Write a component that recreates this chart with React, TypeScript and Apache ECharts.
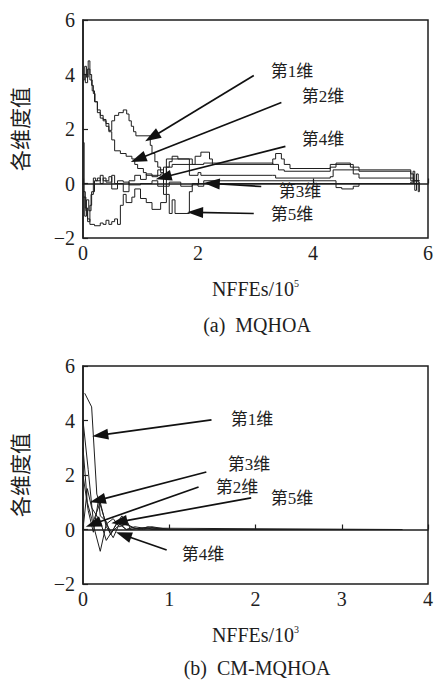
import React, { useEffect, useRef } from 'react';
import * as echarts from 'echarts';

// ---------- (a) MQHOA : x in 10^5 NFFEs ----------
const mqhoaDim1: [number, number][] = [
  [0, 3.8], [0.03, 4.3], [0.06, 3.9], [0.09, 4.5], [0.12, 4.0], [0.15, 3.6], [0.18, 3.3], [0.21, 3.0],
  [0.25, 2.7], [0.3, 2.5], [0.35, 2.35], [0.4, 2.2], [0.45, 1.95], [0.5, 2.3], [0.55, 2.5], [0.62, 2.6],
  [0.7, 2.7], [0.76, 2.55], [0.8, 2.3], [0.84, 2.1], [0.88, 1.9], [0.92, 1.75], [1.17, 1.4], [1.2, 1.1],
  [1.25, 0.8], [1.3, 0.6], [1.35, 0.4], [1.4, 0.6], [1.45, 0.9], [1.6, 0.9], [1.9, 0.7], [1.95, 1.0],
  [2.05, 1.15], [2.2, 0.9], [2.25, 0.7], [3.3, 0.9], [3.35, 1.1], [3.45, 0.9], [3.5, 0.7], [3.6, 0.55],
  [4.3, 0.7], [4.7, 0.5], [5.7, 0.2], [5.75, 0.0], [5.8, 0.1], [5.85, 0.1],
];
const mqhoaDim2: [number, number][] = [
  [0, 4.0], [0.04, 3.7], [0.08, 4.2], [0.12, 3.8], [0.16, 3.4], [0.2, 3.0], [0.25, 2.6], [0.3, 2.4],
  [0.35, 2.3], [0.4, 2.1], [0.45, 1.9], [0.5, 1.6], [0.55, 1.2], [0.65, 1.1], [0.75, 1.0], [0.85, 0.9],
  [0.9, 0.7], [0.95, 0.55], [1.05, 0.4], [1.1, 0.3], [1.35, 0.35], [1.45, 0.6], [1.55, 0.7], [2.0, 0.7],
  [2.1, 0.75], [3.3, 0.7], [3.4, 0.5], [3.5, 0.45], [4.3, 0.6], [4.4, 0.75], [4.65, 0.6], [4.8, 0.45],
  [5.7, 0.35], [5.75, 0.1], [5.85, 0.1],
];
const mqhoaDim3: [number, number][] = [
  [0, 1.5], [0.02, -0.5], [0.05, -1.0], [0.08, -1.4], [0.12, -0.8], [0.15, -0.3], [0.2, 0.1], [0.25, 0.2],
  [0.3, 0.0], [0.35, 0.2], [0.4, 0.05], [0.5, 0.3], [0.55, 0.0], [0.6, 0.1], [0.7, 0.05], [0.8, -0.05],
  [1.0, 0.0], [1.2, 0.1], [1.3, -0.1], [1.5, 0.05], [1.7, -0.1], [1.9, -0.05], [2.0, 0.0], [5.7, 0.05],
  [5.74, 0.45], [5.77, -0.25], [5.8, 0.35], [5.83, -0.3], [5.85, 0.05],
];
const mqhoaDim4: [number, number][] = [
  [0, -0.5], [0.03, -1.2], [0.06, -0.6], [0.1, -1.0], [0.14, -0.4], [0.18, 0.2], [0.22, 0.1], [0.3, 0.3],
  [0.35, 0.1], [0.45, 0.25], [0.5, -0.2], [0.6, 0.0], [0.7, -0.3], [0.8, 0.1], [0.9, 0.3], [1.0, 0.15],
  [1.1, 0.35], [1.2, 0.25], [1.3, 0.5], [1.4, -0.4], [1.45, 0.6], [1.5, 0.8], [1.55, 1.0], [1.65, 0.9],
  [1.85, 0.3], [2.0, 0.4], [2.05, 0.3], [3.3, 0.3], [3.35, 0.2], [4.3, 0.25], [4.35, 0.5], [4.7, 0.35],
  [4.8, 0.2], [5.7, 0.1], [5.85, 0.1],
];
const mqhoaDim5: [number, number][] = [
  [0, -0.3], [0.04, -0.9], [0.08, -1.3], [0.12, -1.5], [0.2, -1.55], [0.3, -1.45], [0.35, -1.5],
  [0.4, -1.35], [0.45, -1.5], [0.5, -1.4], [0.55, -1.3], [0.6, -1.5], [0.65, -0.8], [0.7, -0.4],
  [0.75, -0.7], [0.85, -0.5], [0.9, -0.2], [1.0, -0.55], [1.1, -0.7], [1.2, -0.95], [1.35, -0.7],
  [1.45, -0.4], [1.5, -1.1], [1.55, -0.6], [1.6, -1.1], [1.85, -0.3], [1.9, 0.0], [2.0, -0.1],
  [2.1, 0.1], [4.4, -0.15], [4.5, -0.2], [4.7, -0.1], [4.8, 0.0], [5.7, 0.0], [5.85, 0.0],
];

// ---------- (b) CM-MQHOA : x in 10^3 NFFEs ----------
const cmDim1: [number, number][] = [
  [0.02, 5.0], [0.1, 4.5], [0.16, 1.3], [0.2, 0.9], [0.27, 0.2], [0.35, 0.4], [0.42, 0.1], [0.5, 0.2],
  [0.6, 0.05], [0.7, 0.0], [0.8, 0.05], [1.0, 0.0], [3.7, 0.0],
];
const cmDim2: [number, number][] = [
  [0.0, 4.0], [0.06, 2.2], [0.12, 0.3], [0.2, 1.0], [0.27, 0.1], [0.35, -0.3], [0.42, 0.2], [0.5, 0.0],
  [0.6, 0.1], [0.8, 0.0], [3.7, 0.0],
];
const cmDim3: [number, number][] = [
  [0.0, 2.0], [0.06, 0.7], [0.12, -0.1], [0.18, 1.1], [0.2, 0.5], [0.27, 0.3], [0.32, -0.2], [0.4, 0.3],
  [0.5, 0.0], [0.7, 0.05], [3.7, 0.0],
];
const cmDim4: [number, number][] = [
  [0.0, 3.0], [0.05, 1.0], [0.1, 0.4], [0.2, -0.8], [0.27, 0.2], [0.33, -0.1], [0.4, 0.1], [0.5, 0.4],
  [0.55, 0.0], [0.8, 0.1], [1.0, 0.0], [3.7, 0.0],
];
const cmDim5: [number, number][] = [
  [0.0, 0.0], [0.05, 1.5], [0.1, 0.8], [0.2, 0.3], [0.27, -0.4], [0.35, 0.0], [0.45, 0.5], [0.55, 0.1],
  [0.65, 0.0], [0.75, 0.1], [0.9, 0.02], [1.2, 0.0], [3.7, 0.0],
];

const dimNames = ['第1维', '第2维', '第3维', '第4维', '第5维'];
const yAxisName = '各维度值';
const captionA = '(a)  MQHOA';
const captionB = '(b)  CM-MQHOA';

// annotation arrows in data coordinates: [fromX, fromY, toX, toY]
const arrowsA: [number, number, number, number][] = [
  [2.97, 3.96, 1.2, 1.7],
  [3.45, 2.97, 0.96, 0.9],
  [3.52, 1.36, 1.4, 0.23],
  [3.1, -0.11, 2.24, 0.0],
  [2.97, -1.1, 1.95, -1.06],
];
const arrowsB: [number, number, number, number][] = [
  [1.49, 4.02, 0.2, 3.46],
  [1.43, 2.11, 0.17, 1.07],
  [1.34, 1.56, 0.12, 0.2],
  [1.95, 1.16, 0.42, 0.28],
  [0.97, -0.75, 0.47, -0.2],
];

const SERIF = '"Liberation Serif"';
const FONT = '"Liberation Serif", "Noto Sans CJK SC"';
const INK = '#1e1e1e';

export default function App() {
  const ref = useRef<HTMLDivElement>(null);
  useEffect(() => {
    document.body.style.margin = '0';
    if (!ref.current) return;
    const chart = echarts.init(ref.current, undefined, { renderer: 'svg' });

    const mkX = (gi: number, max: number, interval: number, exp: string) => ({
      type: 'value', gridIndex: gi, min: 0, max, interval,
      name: `{b|NFFEs/10}{s|${exp}}`, nameLocation: 'middle', nameGap: 40,
      nameTextStyle: {
        fontFamily: SERIF,
        rich: {
          b: { fontFamily: SERIF, fontSize: 20, color: INK, lineHeight: 22 },
          s: { fontFamily: SERIF, fontSize: 10, color: INK, verticalAlign: 'top', lineHeight: 12 },
        },
      },
      axisLine: { show: true, lineStyle: { color: INK, width: 1.5 } },
      axisTick: { show: true, inside: true, length: 5, lineStyle: { color: INK, width: 1.2 } },
      axisLabel: { fontFamily: SERIF, fontSize: 20, color: INK, margin: 5 },
      splitLine: { show: false },
    });
    const mkY = (gi: number) => ({
      type: 'value', gridIndex: gi, min: -2, max: 6, interval: 2,
      name: yAxisName, nameLocation: 'middle', nameRotate: 90, nameGap: 52,
      nameTextStyle: { fontFamily: FONT, fontSize: 21, color: INK },
      axisLine: { show: true, lineStyle: { color: INK, width: 1.5 } },
      axisTick: { show: true, inside: true, length: 5, lineStyle: { color: INK, width: 1.2 } },
      axisLabel: {
        fontFamily: SERIF, fontSize: 20, color: INK, margin: 8,
        formatter: (v: number) => String(v).replace('-', '−'),
      },
      splitLine: { show: false },
    });

    const mkArrows = (arr: [number, number, number, number][]) => ({
      silent: true,
      symbol: ['none', 'triangle'],
      symbolSize: [11, 16],
      label: { show: false },
      lineStyle: { color: '#111', width: 1.7, type: 'solid' },
      data: arr.map(([x1, y1, x2, y2]) => [{ coord: [x1, y1] }, { coord: [x2, y2] }]),
    });

    const topData = [mqhoaDim1, mqhoaDim2, mqhoaDim3, mqhoaDim4, mqhoaDim5];
    const botData = [cmDim1, cmDim2, cmDim3, cmDim4, cmDim5];

    const series: any[] = [];
    topData.forEach((d, i) => {
      series.push({
        type: 'line', name: 'a' + dimNames[i], xAxisIndex: 0, yAxisIndex: 0, data: d, step: 'end',
        showSymbol: false, lineStyle: { color: INK, width: 1 },
        ...(i === 0 ? { markLine: mkArrows(arrowsA) } : {}),
      });
    });
    botData.forEach((d, i) => {
      series.push({
        type: 'line', name: 'b' + dimNames[i], xAxisIndex: 1, yAxisIndex: 1, data: d,
        showSymbol: false, lineStyle: { color: INK, width: 1 },
        ...(i === 0 ? { markLine: mkArrows(arrowsB) } : {}),
      });
    });

    const label = (text: string, x: number, y: number) => ({
      type: 'text', x, y,
      style: { text, fontFamily: FONT, fontSize: 17, fill: INK, align: 'center', verticalAlign: 'middle' },
      silent: true,
    });

    chart.setOption({
      animation: false,
      backgroundColor: '#fff',
      textStyle: { fontFamily: FONT },
      grid: [
        { left: 83, top: 20, width: 348, height: 218, show: true, borderColor: INK, borderWidth: 1.5 },
        { left: 83, top: 366, width: 348, height: 218, show: true, borderColor: INK, borderWidth: 1.5 },
      ],
      xAxis: [mkX(0, 6, 2, '5'), mkX(1, 4, 1, '3')],
      yAxis: [mkY(0), mkY(1)],
      series,
      graphic: [
        label(dimNames[0], 292, 71),
        label(dimNames[1], 323, 96),
        label(dimNames[3], 323, 139),
        label(dimNames[2], 300, 191),
        label(dimNames[4], 292, 214),
        label(dimNames[0], 252, 419),
        label(dimNames[2], 249, 464),
        label(dimNames[1], 237, 487),
        label(dimNames[4], 292, 498),
        label(dimNames[3], 203, 554),
        {
          type: 'text', x: 257, y: 325,
          style: { text: captionA, fontFamily: SERIF, fontSize: 20, fill: INK, align: 'center', verticalAlign: 'middle' },
        },
        {
          type: 'text', x: 257, y: 668,
          style: { text: captionB, fontFamily: SERIF, fontSize: 20, fill: INK, align: 'center', verticalAlign: 'middle' },
        },
      ],
    });
    return () => chart.dispose();
  }, []);
  return <div ref={ref} style={{ width: 436, height: 682 }} />;
}
